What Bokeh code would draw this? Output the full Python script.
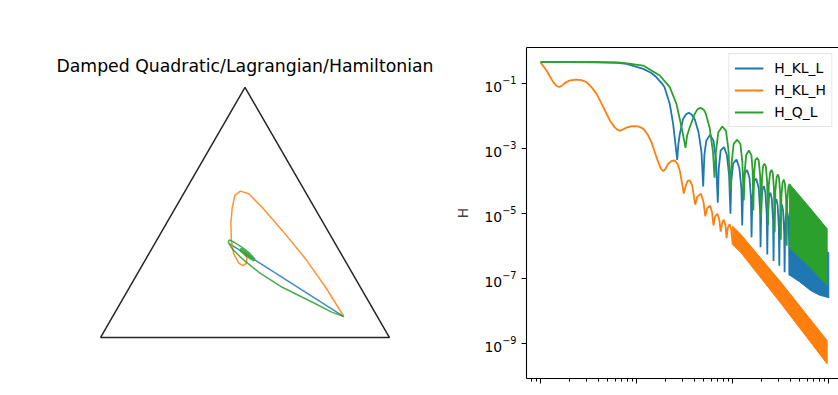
from bokeh.plotting import figure
from bokeh.layouts import row
from bokeh.models import (Label, Legend, LegendItem, FixedTicker, LogAxis, Range1d)
from bokeh.embed import file_html
from bokeh.resources import INLINE

FONT = "DejaVu Sans"
BLUE, ORANGE, GREEN = "#1f77b4", "#ff7f0e", "#2ca02c"

# ---------------- left panel: simplex (triangle) trajectories ----------------
title_text = "Damped Quadratic/Lagrangian/Hamiltonian"
tri_x = [0.0, 1.0, 0.5, 0.0]
tri_y = [0.0, 0.0, 0.866, 0.0]

quad_x = [0.842, 0.800, 0.744, 0.629, 0.548, 0.490, 0.456, 0.442, 0.446, 0.462, 0.490,
          0.515, 0.534, 0.530, 0.505, 0.484, 0.486, 0.505, 0.525, 0.522, 0.500, 0.488,
          0.492, 0.512, 0.518, 0.505, 0.494, 0.498, 0.508, 0.504, 0.500]
quad_y = [0.0727, 0.088, 0.117, 0.174, 0.226, 0.273, 0.307, 0.330, 0.338, 0.330, 0.312,
          0.293, 0.272, 0.265, 0.282, 0.300, 0.309, 0.295, 0.276, 0.270, 0.285, 0.298,
          0.303, 0.288, 0.278, 0.284, 0.294, 0.297, 0.286, 0.286, 0.289]

lag_x = [0.842, 0.446, 0.530, 0.485, 0.507, 0.497, 0.500]
lag_y = [0.0727, 0.325, 0.2715, 0.300, 0.286, 0.2925, 0.2905]

ham_x = [0.842, 0.779, 0.709, 0.629, 0.559, 0.513, 0.484, 0.465, 0.456, 0.451, 0.453,
         0.461, 0.479, 0.493, 0.504, 0.507, 0.503, 0.500]
ham_y = [0.0727, 0.174, 0.273, 0.371, 0.451, 0.498, 0.507, 0.492, 0.451, 0.394, 0.336,
         0.290, 0.257, 0.249, 0.257, 0.273, 0.285, 0.289]

# ---------------- right panel: H vs t (log-log), values read as log10 ----------------
kl_l_log_t = [-1.00, -0.70, -0.40, -0.20, -0.105, 0.069, 0.15, 0.207, 0.26, 0.29, 0.345,
              0.38, 0.408, 0.422, 0.435, 0.45, 0.484, 0.515, 0.543, 0.575, 0.606, 0.645,
              0.675, 0.693, 0.705, 0.725, 0.765, 0.80, 0.825, 0.845, 0.855, 0.875, 0.91,
              0.94, 0.962, 0.977, 0.985, 1.005, 1.04, 1.07, 1.09, 1.099, 1.107, 1.125,
              1.15, 1.175, 1.19, 1.196, 1.204, 1.22, 1.245, 1.27, 1.285, 1.29,
              1.298, 1.31, 1.325, 1.34, 1.354, 1.36, 1.366, 1.378, 1.393, 1.407, 1.42,
              1.425, 1.43, 1.441, 1.455, 1.468, 1.48, 1.485, 1.49, 1.50, 1.513, 1.525,
              1.536, 1.54, 1.545, 1.553, 1.565, 1.577, 1.587, 1.59]
kl_l_log_h = [-0.335, -0.335, -0.337, -0.355, -0.385, -0.54, -0.66, -0.80, -0.98, -1.10, -1.62,
              -2.23, -2.95, -3.34, -2.85, -2.54, -2.08, -1.94, -1.89, -1.95, -2.10, -2.50,
              -3.10, -4.16, -3.20, -2.75, -2.57, -2.75, -3.30, -4.66, -3.60, -3.05, -2.95,
              -3.20, -3.80, -5.00, -4.00, -3.45, -3.33, -3.60, -4.20, -5.36, -4.30, -3.75,
              -3.65, -3.90, -4.50, -5.72, -4.60, -4.00, -3.92, -4.20, -4.90, -6.03,
              -4.70, -4.25, -4.15, -4.35, -5.00, -6.25, -5.00, -4.45, -4.35, -4.55, -5.20,
              -6.45, -5.20, -4.65, -4.55, -4.75, -5.40, -6.60, -5.40, -4.85, -4.72, -4.92,
              -5.60, -6.80, -5.60, -5.05, -4.90, -5.10, -5.80, -6.90]
kl_l_band_top_log_t = [1.59, 1.75, 2.00]
kl_l_band_top_log_h = [-4.95, -5.55, -6.20]
kl_l_band_bot_log_t = [1.59, 1.70, 1.81, 1.90, 2.00]
kl_l_band_bot_log_h = [-6.88, -7.10, -7.36, -7.50, -7.58]

kl_h_log_t = [-1.00, -0.9375, -0.868, -0.835, -0.805, -0.775, -0.747, -0.70, -0.633, -0.57,
              -0.521, -0.47, -0.417, -0.365, -0.313, -0.27, -0.227, -0.20, -0.175, -0.14,
              -0.105, -0.06, -0.019, 0.025, 0.069, 0.115, 0.155, 0.195, 0.225, 0.255, 0.277,
              0.30, 0.329, 0.365, 0.398, 0.425, 0.45, 0.472, 0.491, 0.51, 0.53, 0.554, 0.58,
              0.610, 0.63, 0.67, 0.695, 0.715, 0.735, 0.765, 0.785, 0.80, 0.815, 0.84, 0.86,
              0.875, 0.89, 0.907, 0.925, 0.936, 0.95, 0.968, 0.985, 1.00]
kl_h_log_h = [-0.335, -0.59, -0.95, -1.06, -1.10, -1.05, -0.98, -0.90, -0.87, -0.89,
              -0.95, -1.10, -1.31, -1.60, -1.92, -2.17, -2.34, -2.41, -2.44, -2.40,
              -2.35, -2.31, -2.30, -2.32, -2.38, -2.56, -2.80, -3.15, -3.41, -3.62, -3.69,
              -3.62, -3.46, -3.37, -3.36, -3.46, -3.67, -4.05, -4.38, -4.15, -3.99, -3.97, -4.15,
              -4.72, -4.48, -4.38, -4.62, -5.08, -4.82, -4.75, -4.95, -5.36, -5.10, -5.00, -5.18,
              -5.55, -5.28, -5.18, -5.36, -5.75, -5.42, -5.32, -5.50, -5.95]
kl_h_band_top_log_t = [1.00, 1.081, 1.50, 1.983]
kl_h_band_top_log_h = [-5.38, -5.62, -7.10, -8.90]
kl_h_band_bot_log_t = [1.00, 1.081, 1.50, 1.983]
kl_h_band_bot_log_h = [-5.95, -6.18, -7.75, -9.62]

q_l_log_t = [-1.00, -0.50, -0.20, -0.10, 0.069, 0.241, 0.345, 0.415, 0.467, 0.495, 0.509,
             0.525, 0.554, 0.606, 0.635, 0.665, 0.70, 0.72, 0.76, 0.795, 0.811, 0.825, 0.85,
             0.891, 0.93, 0.955, 0.977, 0.99, 1.01, 1.047, 1.08, 1.10, 1.116, 1.125, 1.14,
             1.168, 1.195, 1.208, 1.215, 1.222, 1.235, 1.255,
             1.27, 1.285, 1.296, 1.305, 1.317, 1.331, 1.345, 1.358, 1.368, 1.376, 1.39,
             1.404, 1.417, 1.429, 1.437, 1.444, 1.457, 1.470, 1.482, 1.494, 1.501, 1.507,
             1.519, 1.532, 1.543, 1.555, 1.562, 1.568, 1.58, 1.592]
q_l_log_h = [-0.335, -0.335, -0.34, -0.37, -0.44, -0.745, -1.10, -1.62, -2.33, -2.75, -2.97,
             -2.60, -2.33, -1.92, -1.78, -1.74, -1.80, -1.92, -2.35, -3.10, -3.89, -3.10, -2.50,
             -2.31, -2.45, -3.00, -4.28, -3.40, -2.85, -2.72, -2.85, -3.40, -4.59, -3.70, -3.20,
             -3.05, -3.20, -3.70, -4.90, -3.80, -3.35, -3.28,
             -3.35, -3.80, -5.10, -3.90, -3.52, -3.46, -3.55, -4.00, -5.35, -4.10, -3.72,
             -3.65, -3.75, -4.20, -5.57, -4.30, -3.88, -3.79, -3.90, -4.35, -5.80, -4.45,
             -4.03, -3.95, -4.07, -4.50, -5.98, -4.60, -4.16, -4.08]
q_l_band_top_log_t = [1.592, 1.75, 1.983]
q_l_band_top_log_h = [-4.08, -4.63, -5.46]
q_l_band_bot_log_t = [1.592, 1.80, 1.983]
q_l_band_bot_log_h = [-6.05, -6.63, -7.21]

series_labels = ["H_KL_L", "H_KL_H", "H_Q_L"]
y_tick_values = [1e-1, 1e-3, 1e-5, 1e-7, 1e-9]
x_tick_values = [0.1, 1.0, 10.0, 100.0]
x_minor_values = [0.08, 0.09, 0.2, 0.3, 0.4, 0.5, 0.6, 0.7, 0.8, 0.9,
                  2, 3, 4, 5, 6, 7, 8, 9, 20, 30, 40, 50, 60, 70, 80, 90]


def tens(vals):
    return [10.0 ** v for v in vals]


H = 395
TOP, BOTTOM = 47, 17

# ---------------- build left figure ----------------
left = figure(width=448, height=H, output_backend="svg", toolbar_location=None,
              x_range=Range1d(-0.346, 1.2042), y_range=Range1d(-0.142, 1.0045),
              x_axis_location=None, y_axis_location=None,
              min_border_left=0, min_border_right=0,
              min_border_top=TOP, min_border_bottom=BOTTOM)
left.grid.visible = False
left.outline_line_color = None
left.line(tri_x, tri_y, line_color="#262626", line_width=1.5)
left.line(lag_x, lag_y, line_color=BLUE, line_width=1.5, line_alpha=0.85)
left.line(ham_x, ham_y, line_color=ORANGE, line_width=1.5, line_alpha=0.85)
left.line(quad_x, quad_y, line_color=GREEN, line_width=1.5, line_alpha=0.85)
left.add_layout(Label(x=0.5, y=0.9397, text=title_text,
                      text_align="center", text_baseline="alphabetic", text_font=FONT,
                      text_font_size="17.3px", text_color="#000000"))

# ---------------- build right figure ----------------
right = figure(width=838 - 448, height=H, x_axis_type="log", y_axis_type="log",
               x_range=Range1d(10 ** -1.1457, 10 ** 2.101),
               y_range=Range1d(10 ** -10.068, 10 ** 0.117),
               output_backend="svg", toolbar_location=None,
               min_border_left=78, min_border_right=0,
               min_border_top=TOP, min_border_bottom=BOTTOM)
right.grid.visible = False
right.outline_line_color = None

xa = right.xaxis[0]
xa.ticker = FixedTicker(ticks=x_tick_values, minor_ticks=x_minor_values)
xa.major_label_text_font_size = "7px"
xa.major_label_text_color = None
xa.major_label_standoff = 0
ya = right.yaxis[0]
ya.ticker = FixedTicker(ticks=y_tick_values, minor_ticks=[])
ya.axis_label = "H"
ya.axis_label_text_font = FONT
ya.axis_label_text_font_size = "13.9px"
ya.axis_label_text_font_style = "normal"
ya.axis_label_standoff = 10
for ax in (xa, ya):
    ax.axis_line_color = "#000000"
    ax.axis_line_width = 1.1
    ax.major_tick_in = 0
    ax.major_tick_out = 5
    ax.minor_tick_in = 0
    ax.minor_tick_out = 3
    ax.major_tick_line_color = "#000000"
    ax.minor_tick_line_color = "#000000"
    ax.major_label_text_font = FONT
ya.major_label_text_color = "#000000"
ya.major_label_text_font_size = "13.9px"

top_spine = LogAxis(ticker=FixedTicker(ticks=x_tick_values, minor_ticks=[]),
                    axis_line_color="#000000", axis_line_width=1.1,
                    major_label_text_font_size="7px", major_label_text_color=None,
                    major_label_standoff=0,
                    major_tick_line_color=None, minor_tick_line_color=None)
right.add_layout(top_spine, "above")

r_b = right.line(tens(kl_l_log_t), tens(kl_l_log_h), line_color=BLUE, line_width=1.8)
right.patch(tens(kl_l_band_top_log_t + kl_l_band_bot_log_t[::-1]),
            tens(kl_l_band_top_log_h + kl_l_band_bot_log_h[::-1]),
            fill_color=BLUE, line_color=BLUE, line_width=1)
r_o = right.line(tens(kl_h_log_t), tens(kl_h_log_h), line_color=ORANGE, line_width=1.8)
right.patch(tens(kl_h_band_top_log_t + kl_h_band_bot_log_t[::-1]),
            tens(kl_h_band_top_log_h + kl_h_band_bot_log_h[::-1]),
            fill_color=ORANGE, line_color=ORANGE, line_width=1)
r_g = right.line(tens(q_l_log_t), tens(q_l_log_h), line_color=GREEN, line_width=1.8)
right.patch(tens(q_l_band_top_log_t + q_l_band_bot_log_t[::-1]),
            tens(q_l_band_top_log_h + q_l_band_bot_log_h[::-1]),
            fill_color=GREEN, line_color=GREEN, line_width=1)

legend = Legend(items=[LegendItem(label=series_labels[0], renderers=[r_b]),
                       LegendItem(label=series_labels[1], renderers=[r_o]),
                       LegendItem(label=series_labels[2], renderers=[r_g])],
                location="top_right", padding=5, spacing=4, margin=6,
                glyph_width=29, glyph_height=18, label_height=18, label_standoff=11,
                label_text_font=FONT, label_text_font_size="13.9px",
                label_text_color="#000000",
                border_line_color="#cccccc", border_line_width=1,
                background_fill_color="white", background_fill_alpha=0.8)
right.add_layout(legend)

layout = row(left, right)
open("out.html", "w").write(file_html(layout, INLINE))
